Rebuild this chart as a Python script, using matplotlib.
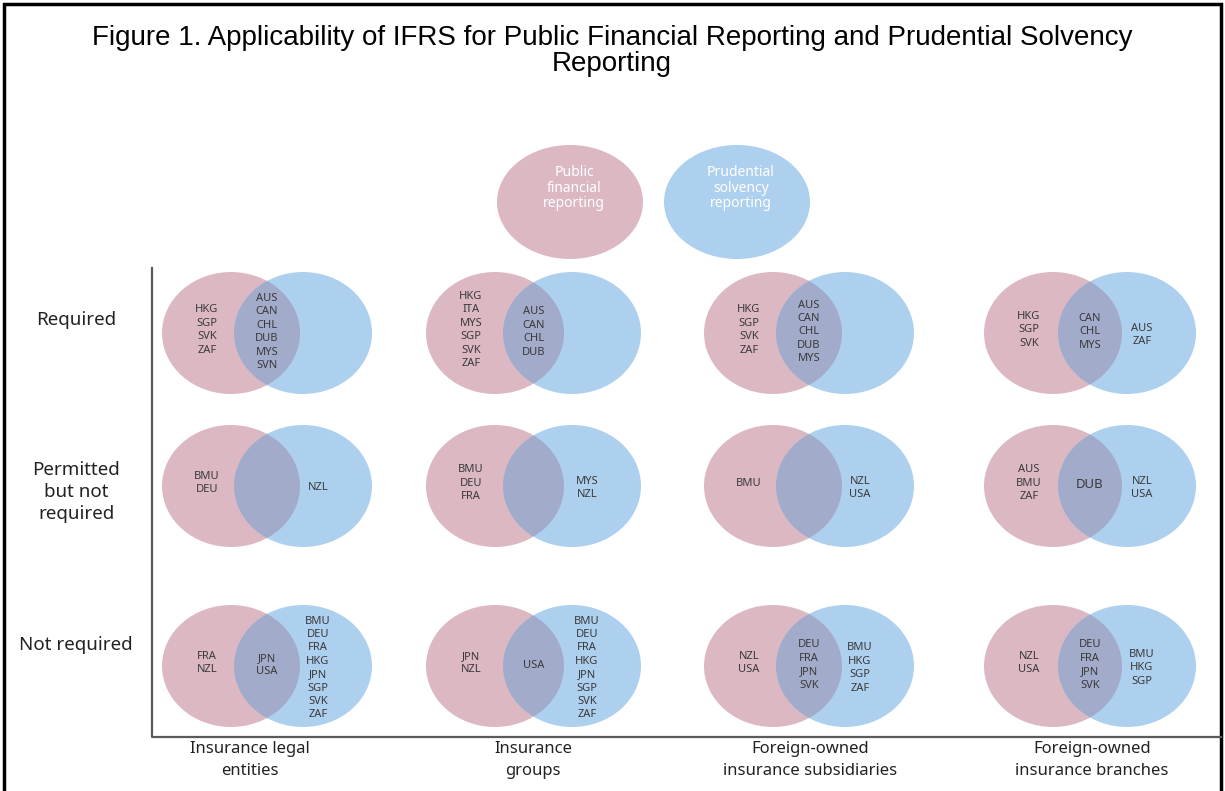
import matplotlib
matplotlib.use("Agg")
import matplotlib.pyplot as plt
from matplotlib.patches import Ellipse

# --- data -------------------------------------------------------------
title_lines = ["Figure 1. Applicability of IFRS for Public Financial Reporting and Prudential Solvency",
               "Reporting"]
legend_labels = ["Public\nfinancial\nreporting", "Prudential\nsolvency\nreporting"]

row_labels = ["Required", "Permitted\nbut not\nrequired", "Not required"]
col_labels = ["Insurance legal\nentities", "Insurance\ngroups",
              "Foreign-owned\ninsurance subsidiaries", "Foreign-owned\ninsurance branches"]

# each cell: (public financial only, both, prudential solvency only)
required = [
    (["HKG", "SGP", "SVK", "ZAF"], ["AUS", "CAN", "CHL", "DUB", "MYS", "SVN"], []),
    (["HKG", "ITA", "MYS", "SGP", "SVK", "ZAF"], ["AUS", "CAN", "CHL", "DUB"], []),
    (["HKG", "SGP", "SVK", "ZAF"], ["AUS", "CAN", "CHL", "DUB", "MYS"], []),
    (["HKG", "SGP", "SVK"], ["CAN", "CHL", "MYS"], ["AUS", "ZAF"]),
]
permitted = [
    (["BMU", "DEU"], [], ["NZL"]),
    (["BMU", "DEU", "FRA"], [], ["MYS", "NZL"]),
    (["BMU"], [], ["NZL", "USA"]),
    (["AUS", "BMU", "ZAF"], ["DUB"], ["NZL", "USA"]),
]
not_required = [
    (["FRA", "NZL"], ["JPN", "USA"], ["BMU", "DEU", "FRA", "HKG", "JPN", "SGP", "SVK", "ZAF"]),
    (["JPN", "NZL"], ["USA"], ["BMU", "DEU", "FRA", "HKG", "JPN", "SGP", "SVK", "ZAF"]),
    (["NZL", "USA"], ["DEU", "FRA", "JPN", "SVK"], ["BMU", "HKG", "SGP", "ZAF"]),
    (["NZL", "USA"], ["DEU", "FRA", "JPN", "SVK"], ["BMU", "HKG", "SGP"]),
]
cells = [required, permitted, not_required]

# --- layout / style ----------------------------------------------------
W, H = 1225, 791
PINK = "#dcb8c3"
BLUE = "#add0ee"
OVERLAP = "#a2abca"
TXT = "#3a3a3a"

pink_x = [231, 495, 773, 1053]
blue_x = [303, 572, 845, 1127]
row_y = [333, 486, 666]
rx, ry = 69, 61

fig = plt.figure(figsize=(W / 100, H / 100), dpi=100)
ax = fig.add_axes([0, 0, 1, 1])
ax.set_xlim(0, W)
ax.set_ylim(H, 0)
ax.axis("off")

# outer frame (bottom edge is cropped in the original)
ax.plot([4, 4, 1221, 1221], [H, 4, 4, H], color="black", lw=2.5, solid_joinstyle="miter")

for line, y in zip(title_lines, [38, 64]):
    ax.text(612, y, line, ha="center", va="center", fontsize=20,
            family="Liberation Sans")

# legend ellipses
for cx, lab, col in [(570, legend_labels[0], PINK), (737, legend_labels[1], BLUE)]:
    ax.add_patch(Ellipse((cx, 202), 146, 114, facecolor=col, edgecolor="none"))
    ax.text(cx + 4, 188, lab, ha="center", va="center", color="white", fontsize=10,
            fontweight="bold", family="Noto Sans", linespacing=1.05)

# axes lines
ax.plot([152, 152, 1221], [268, 737, 737], color="#5a5a5a", lw=1.6)

for r, y in enumerate(row_y):
    for c in range(4):
        pf, both, ps = cells[r][c]
        pink = Ellipse((pink_x[c], y), 2 * rx, 2 * ry, facecolor=PINK, edgecolor="none")
        blue = Ellipse((blue_x[c], y), 2 * rx, 2 * ry, facecolor=BLUE, edgecolor="none")
        ov = Ellipse((blue_x[c], y), 2 * rx, 2 * ry, facecolor=OVERLAP, edgecolor="none")
        ax.add_patch(pink)
        ax.add_patch(blue)
        ax.add_patch(ov)
        ov.set_clip_path(pink)

        kw = dict(ha="center", va="center", color=TXT, fontsize=8,
                  family="Noto Sans", linespacing=1.3)
        if pf:
            ax.text(pink_x[c] - 24, y - 3, "\n".join(pf), **kw)
        if both:
            big = len(both) == 1 and r == 1
            ax.text((pink_x[c] + blue_x[c]) / 2, y - 1, "\n".join(both),
                    **{**kw, "fontsize": 9.5 if big else 8,
                       "fontweight": "bold" if big else "normal"})
        if ps:
            ax.text(blue_x[c] + 15, y + 2, "\n".join(ps), **kw)

for lab, y in zip(row_labels, [320, 492, 645]):
    ax.text(76, y, lab, ha="center", va="center", fontsize=13.5,
            family="Noto Sans", color="#222222", linespacing=1.28)

for lab, x in zip(col_labels, [250, 533, 810, 1092]):
    ax.text(x, 760, lab, ha="center", va="center", fontsize=12,
            family="Noto Sans", color="#222222", linespacing=1.45)

fig.savefig("out.png", dpi=100)
